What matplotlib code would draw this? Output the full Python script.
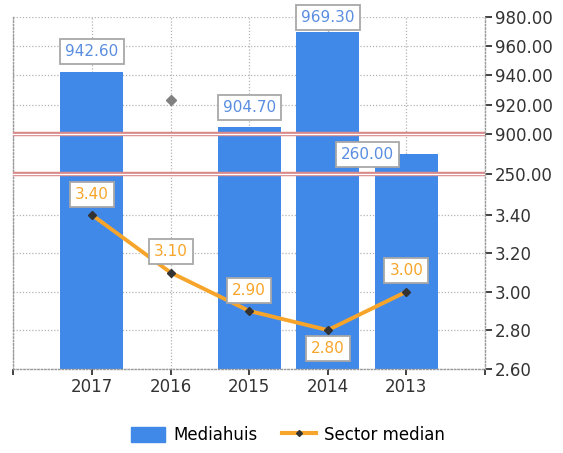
import numpy as np
import matplotlib
matplotlib.use('Agg')
import matplotlib.pyplot as plt
from matplotlib.lines import Line2D
from matplotlib.patches import Patch

years = ['2017', '2016', '2015', '2014', '2013']
mediahuis = [942.6, np.nan, 904.7, 969.3, 260.0]
sector_median = [3.40, 3.10, 2.90, 2.80, 3.00]
# the lone grey point drawn at 2016 in the upper panel
grey_point = 923.5

yticks = [2.6, 2.8, 3.0, 3.2, 3.4, 250, 900, 920, 940, 960, 980]
breaks = [250, 900]

# broken axis -> piecewise linear scale (value -> pixel height)
seg_vals = [2.6, 3.6, 250, 270.5, 900, 980]
seg_pix = [0, 192, 195, 234, 234.1, 352]

def fwd(v):
    return np.interp(v, seg_vals, seg_pix)

def inv(u):
    return np.interp(u, seg_pix, seg_vals)

BLUE = '#4189e9'
ORANGE = '#f7a52a'
DARK = '#333333'
GRID = '#b4b4b4'

fig = plt.figure(figsize=(5.63, 4.53), dpi=100)
ax = fig.add_axes([13.3/563, 1-368.5/453, (485-13.3)/563, 352/453])
ax.set_yscale('function', functions=(fwd, inv))

x = np.arange(len(years))
hb = np.array(mediahuis)
ok = ~np.isnan(hb)
ax.bar(x[ok], hb[ok], width=0.8, color=BLUE, zorder=2)
ax.plot([1], [grey_point], marker='D', ms=5, color='#808080', ls='none', zorder=3)

for b in breaks:
    ax.axhline(b - 0.0, color='#d88a8a', lw=3.2, zorder=3)
    ax.axhline(b, color='white', lw=0.9, zorder=3)

ax.plot(x, sector_median, color=ORANGE, lw=2.8, zorder=4,
        marker='D', ms=4, mfc=DARK, mec=DARK)

box = dict(boxstyle='square,pad=0.33', fc='white', ec='#a8a8a8', lw=1.3)
px = 0.72
bar_off = [(0, 20), None, (0, 20), (0, 14.5), (-39, 0)]
for i, v in enumerate(mediahuis):
    if np.isnan(v):
        continue
    dx, dy = bar_off[i]
    ax.annotate('%.2f' % v, (x[i], v), xytext=(dx*px, dy*px), textcoords='offset points',
                ha='center', va='center', fontsize=11, color='#5a8de0', bbox=box, zorder=5)

line_off = [(0, 20), (0, 21), (0, 20), (0, -18), (0, 21)]
for i, v in enumerate(sector_median):
    dx, dy = line_off[i]
    ax.annotate('%.2f' % v, (x[i], v), xytext=(dx*px, dy*px), textcoords='offset points',
                ha='center', va='center', fontsize=11, color=ORANGE, bbox=box, zorder=5)

ax.set_xlim(-1, 5)
ax.set_ylim(2.6, 980)
ax.set_xticks(range(-1, 6))
ax.set_xticklabels([''] + years + [''])
ax.set_yticks(yticks)
ax.set_yticklabels(['%.2f' % t for t in yticks])
ax.yaxis.tick_right()
ax.tick_params(axis='y', direction='out', length=5, width=1.3, color=DARK,
               labelsize=12, labelcolor=DARK, pad=2)
ax.tick_params(axis='x', direction='out', length=4, width=1.3, color=DARK,
               labelsize=12, labelcolor=DARK, pad=2.5)
ax.minorticks_off()

ax.set_axisbelow(True)
ax.grid(True, ls=(0, (1, 1.5)), color=GRID, lw=0.9)
ax.spines['top'].set_visible(False)
for s in ['left', 'right', 'bottom']:
    ax.spines[s].set_linestyle((0, (1, 1.5)))
    ax.spines[s].set_color('#999999')
    ax.spines[s].set_linewidth(1.0)

handles = [Patch(facecolor=BLUE, edgecolor=BLUE),
           Line2D([], [], color=ORANGE, lw=3, marker='D', ms=3, mfc=DARK, mec=DARK)]
fig.legend(handles, ['Mediahuis', 'Sector median'], loc='center',
           bbox_to_anchor=(288/563, 1-435/453), ncol=2, frameon=False,
           fontsize=12, handlelength=2.0, handleheight=1.0,
           handletextpad=0.5, columnspacing=1.5)

fig.savefig('out.png', dpi=100)
